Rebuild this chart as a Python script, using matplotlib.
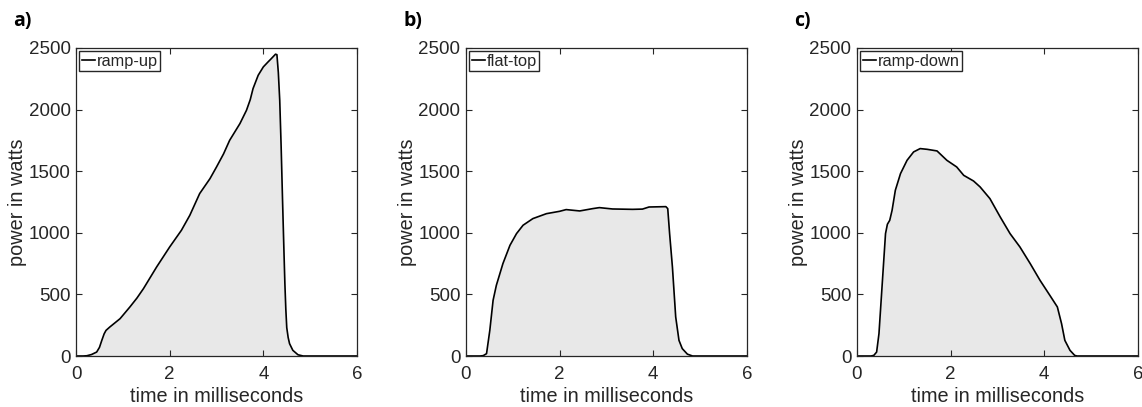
import matplotlib
matplotlib.use("Agg")
import matplotlib.pyplot as plt

plt.rcParams['font.family'] = ['Liberation Sans', 'DejaVu Sans']

# ramp-up pulse (time in ms, power in W)
t_up = [0.0, 0.15, 0.23, 0.33, 0.44, 0.50, 0.55, 0.60, 0.64, 0.72, 0.94, 1.15,
        1.30, 1.44, 1.72, 2.0, 2.25, 2.43, 2.64, 2.86, 3.0, 3.15, 3.28, 3.5,
        3.64, 3.72, 3.78, 3.89, 4.0, 4.1, 4.17, 4.26, 4.29, 4.32, 4.35, 4.38,
        4.41, 4.44, 4.46, 4.48, 4.5, 4.53, 4.56, 4.63, 4.74, 4.85, 6.0]
p_up = [0, 0, 2, 12, 32, 70, 127, 180, 208, 235, 303, 398,
        470, 547, 722, 885, 1020, 1142, 1318, 1439, 1534, 1640, 1750, 1886,
        1994, 2080, 2170, 2278, 2346, 2386, 2413, 2449, 2445, 2300, 2075, 1700,
        1264, 850, 587, 380, 230, 150, 100, 46, 10, 0, 0]

# flat-top pulse
t_flat = [0.0, 0.3, 0.37, 0.44, 0.51, 0.58, 0.65, 0.79, 0.94, 1.08, 1.22, 1.43,
          1.72, 2.0, 2.14, 2.43, 2.71, 2.85, 3.13, 3.56, 3.77, 3.91, 4.27,
          4.31, 4.35, 4.41, 4.48, 4.55, 4.62, 4.73, 4.84, 6.0]
p_flat = [0, 0, 3, 19, 208, 452, 574, 750, 898, 993, 1061, 1115,
          1155, 1174, 1188, 1177, 1196, 1204, 1193, 1190, 1192, 1209, 1212,
          1196, 993, 722, 317, 127, 60, 15, 0, 0]

# ramp-down pulse
t_down = [0.0, 0.3, 0.36, 0.42, 0.47, 0.54, 0.61, 0.65, 0.70, 0.75, 0.82, 0.93,
          1.07, 1.21, 1.35, 1.5, 1.71, 1.92, 2.13, 2.28, 2.49, 2.63, 2.84,
          3.06, 3.27, 3.48, 3.70, 3.91, 4.12, 4.28, 4.37, 4.44, 4.55, 4.65,
          4.7, 6.0]
p_down = [0, 0, 5, 32, 181, 587, 993, 1069, 1101, 1182, 1345, 1480,
          1588, 1656, 1683, 1677, 1664, 1588, 1534, 1466, 1420, 1372, 1277,
          1128, 993, 885, 750, 614, 492, 398, 262, 127, 46, 5,
          0, 0]

panels = [("a)", "ramp-up", t_up, p_up),
          ("b)", "flat-top", t_flat, p_flat),
          ("c)", "ramp-down", t_down, p_down)]

fig = plt.figure(figsize=(11.42, 4.07), dpi=100)
lefts = [0.0666, 0.408, 0.7504]
edge = '#262626'

for left, (tag, name, t, p) in zip(lefts, panels):
    ax = fig.add_axes([left, 0.1253, 0.246, 0.757])
    ax.fill_between(t, p, 0, color='#e8e8e8', lw=0)
    ax.plot(t, p, color='black', lw=1.2, label=name)
    ax.set_xlim(0, 6)
    ax.set_ylim(0, 2500)
    ax.set_xticks([0, 2, 4, 6])
    ax.set_yticks([0, 500, 1000, 1500, 2000, 2500])
    ax.tick_params(direction='in', top=True, right=True, length=4,
                   width=0.8, color=edge, labelcolor=edge, labelsize=13.5,
                   pad=4)
    ax.tick_params(axis='x', pad=7)
    for s in ax.spines.values():
        s.set_color(edge)
        s.set_linewidth(0.9)
    ax.set_xlabel('time in milliseconds', fontsize=14.3, color=edge, labelpad=3)
    ax.set_ylabel('power in watts', fontsize=14.3, color=edge, labelpad=1)
    leg = ax.legend(loc='upper left', fontsize=11.8, handlelength=0.8,
                    handletextpad=0.1, borderpad=0.15, borderaxespad=0.2,
                    fancybox=False, framealpha=1, edgecolor=edge)
    leg.get_frame().set_linewidth(1.0)
    for txt in leg.get_texts():
        txt.set_color(edge)
    fig.text(left - 0.055, 0.935, tag, fontsize=14, fontweight='bold',
             family=['Open Sans', 'DejaVu Sans'], color='black')

fig.savefig('out.png', dpi=100)
